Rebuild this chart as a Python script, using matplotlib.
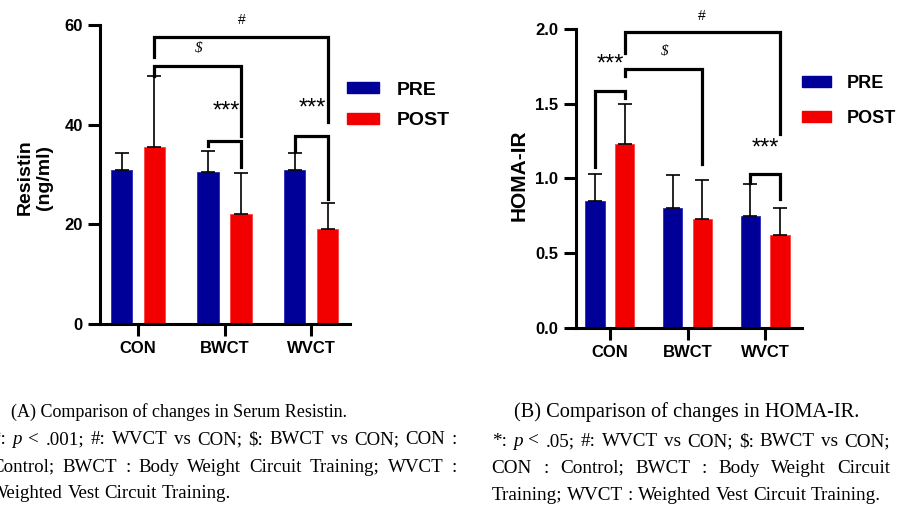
import numpy as np
from matplotlib import pyplot as plt
from matplotlib.patches import Patch

# ---- data ----
groups = ['CON', 'BWCT', 'WVCT']
resistin_pre = [31.0, 30.5, 31.0]
resistin_pre_sd = [3.3, 4.3, 3.3]
resistin_post = [35.5, 22.0, 19.1]
resistin_post_sd = [14.2, 8.3, 5.2]

homa_pre = [0.85, 0.80, 0.75]
homa_pre_sd = [0.18, 0.22, 0.21]
homa_post = [1.23, 0.73, 0.62]
homa_post_sd = [0.27, 0.26, 0.18]

# brackets: (x1, x2, y_left_end, y_top, y_right_end, label, label_x, label_y)
# x given as (group index, 0 = PRE / 1 = POST)
resistin_brackets = [
    ((0, 1), (2, 1), 53.6, 57.6, 40.5, '#', 1.2, 61.0),
    ((0, 1), (1, 1), 49.8, 51.8, 37.8, '$', 0.7, 55.3),
    ((1, 0), (1, 1), 35.8, 36.8, 31.5, '***', 1.02, 42.6),
    ((2, 0), (2, 1), 34.8, 37.8, 25.0, '***', 2.02, 43.2),
]
homa_brackets = [
    ((0, 1), (2, 1), 1.84, 1.98, 1.295, '#', 1.19, 2.09),
    ((0, 1), (1, 1), 1.685, 1.73, 1.094, '$', 0.71, 1.85),
    ((0, 0), (0, 1), 1.078, 1.587, 1.536, '***', 0.0, 1.76),
    ((2, 0), (2, 1), 0.97, 1.03, 0.86, '***', 2.0, 1.20),
]

PRE_COLOR = '#000099'
POST_COLOR = '#f20000'
OFFSET = 0.19
WIDTH = 0.25

plt.rcParams['font.family'] = ['Liberation Sans', 'DejaVu Sans']

fig = plt.figure(figsize=(8.98, 5.15), dpi=100)
W, H = 898, 515


def px_axes(x0, x1, y_top, y_bottom):
    return fig.add_axes([x0 / W, 1 - y_bottom / H, (x1 - x0) / W, (y_bottom - y_top) / H])


def draw_panel(ax, pre, pre_sd, post, post_sd, brackets, ylim, yticks, fmt, ylabel, xlim,
               label_size):
    x = np.arange(len(groups))
    err_kw = dict(elinewidth=1.2, capthick=1.2, capsize=5, ecolor='black')
    ax.bar(x - OFFSET, pre, WIDTH, color=PRE_COLOR, edgecolor='#2a2ab8', linewidth=0.6,
           yerr=[np.zeros(3), pre_sd], error_kw=err_kw, zorder=2)
    ax.bar(x + OFFSET, post, WIDTH, color=POST_COLOR, edgecolor='#ff4040', linewidth=0.6,
           yerr=[np.zeros(3), post_sd], error_kw=err_kw, zorder=2)

    ax.set_xlim(*xlim)
    ax.set_ylim(*ylim)
    ax.set_xticks(x)
    ax.set_xticklabels(groups, fontsize=12, fontweight='bold')
    ax.set_yticks(yticks)
    ax.set_yticklabels([fmt.format(t) for t in yticks], fontsize=12, fontweight='bold')
    ax.tick_params(width=2.2, length=8.5, pad=4)
    for side in ['top', 'right']:
        ax.spines[side].set_visible(False)
    for side in ['left', 'bottom']:
        ax.spines[side].set_linewidth(2.2)
    ax.set_ylabel(ylabel, fontsize=label_size, fontweight='bold', linespacing=1.1)

    for (g1, s1), (g2, s2), yl, yt, yr, label, lx, ly in brackets:
        xa = g1 + (OFFSET if s1 else -OFFSET)
        xb = g2 + (OFFSET if s2 else -OFFSET)
        ax.plot([xa, xa, xb, xb], [yl, yt, yt, yr], color='black', lw=2.3,
                clip_on=False, solid_joinstyle='miter', zorder=3)
        if label == '$':
            ax.text(lx, ly, label, ha='center', va='center', fontsize=11,
                    family='Liberation Serif', style='italic')
        elif label == '#':
            ax.text(lx, ly, label, ha='center', va='center', fontsize=10)
        else:
            ax.text(lx, ly, label, ha='center', va='center', fontsize=17)


ax1 = px_axes(100, 350, 25, 324)
draw_panel(ax1, resistin_pre, resistin_pre_sd, resistin_post, resistin_post_sd,
           resistin_brackets, (0, 60), [0, 20, 40, 60], '{:.0f}', 'Resistin\n(ng/ml)',
           (-0.44, 2.45), 14)
ax1.yaxis.set_label_coords(-0.19, 0.49)

ax2 = px_axes(575.7, 801.7, 29, 327.7)
draw_panel(ax2, homa_pre, homa_pre_sd, homa_post, homa_post_sd,
           homa_brackets, (0, 2.0), [0.0, 0.5, 1.0, 1.5, 2.0], '{:.1f}', 'HOMA-IR',
           (-0.44, 2.47), 15)
ax2.yaxis.set_label_coords(-0.21, 0.51)

handles = [Patch(color=PRE_COLOR), Patch(color=POST_COLOR)]
legend_cfg = [
    (ax1, (0.988, 0.81), 0.7, 1.65, 0.93, 14),
    (ax2, (1.0, 0.846), 1.0, 1.6, 0.9, 13),
]
for ax, anchor, spacing, hlen, tpad, size in legend_cfg:
    ax.legend(handles, ['PRE', 'POST'], loc='upper left', bbox_to_anchor=anchor,
              frameon=False, borderpad=0, borderaxespad=0, handlelength=hlen,
              handleheight=0.5, handletextpad=tpad, labelspacing=spacing,
              prop=dict(size=size, weight='bold'))

# ---- captions ----
serif = 'Liberation Serif'
fig.text(179 / W, 1 - 412 / H, '(A) Comparison of changes in Serum Resistin.',
         ha='center', va='center', fontsize=13, family=serif)
fig.text(686.7 / W, 1 - 412 / H, '(B) Comparison of changes in HOMA-IR.',
         ha='center', va='center', fontsize=14.7, family=serif)

left_lines = [
    ['*:', ('p', 'italic'), '<', '.001;', '#:', 'WVCT', 'vs', 'CON;', '$:', 'BWCT', 'vs',
     'CON;', 'CON', ':'],
    ['Control;', 'BWCT', ':', 'Body', 'Weight', 'Circuit', 'Training;', 'WVCT', ':'],
    ['Weighted', 'Vest', 'Circuit', 'Training.'],
]
right_lines = [
    ['*:', ('p', 'italic'), '<', '.05;', '#:', 'WVCT', 'vs', 'CON;', '$:', 'BWCT', 'vs', 'CON;'],
    ['CON', ':', 'Control;', 'BWCT', ':', 'Body', 'Weight', 'Circuit'],
    ['Training;', 'WVCT', ':', 'Weighted', 'Vest', 'Circuit', 'Training.'],
]

renderer = fig.canvas.get_renderer()


def caption_block(lines, x0, x1, y_rows, size):
    sp = fig.text(0, 0, 'a a', fontsize=size, family=serif)
    sp2 = fig.text(0, 0, 'aa', fontsize=size, family=serif)
    space = sp.get_window_extent(renderer).width - sp2.get_window_extent(renderer).width
    sp.remove()
    sp2.remove()
    for i, (words, yrow) in enumerate(zip(lines, y_rows)):
        texts = []
        for w in words:
            word, style = w if isinstance(w, tuple) else (w, 'normal')
            t = fig.text(0, 1 - yrow / H, word, ha='left', va='center', fontsize=size,
                         family=serif, style=style)
            texts.append(t)
        widths = [t.get_window_extent(renderer).width for t in texts]
        last = i == len(lines) - 1
        gap = space if last else (x1 - x0 - sum(widths)) / (len(texts) - 1)
        xpos = x0
        for t, w in zip(texts, widths):
            t.set_x(xpos / W)
            xpos += w + gap


caption_block(left_lines, -9, 457, [440, 467, 493], 13.6)
caption_block(right_lines, 491.7, 890, [441.7, 468.3, 495], 13.8)

fig.savefig('out.png', dpi=100)
